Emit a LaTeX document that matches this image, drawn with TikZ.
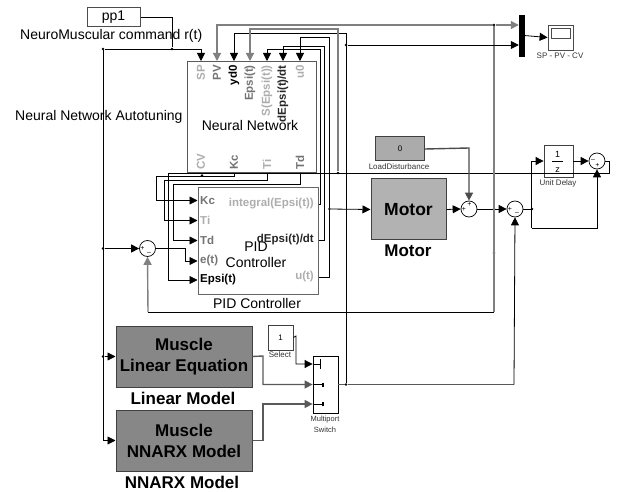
\documentclass[tikz,border=0pt]{standalone}
\usepackage{fontspec}
\setmainfont{Liberation Sans}
\usetikzlibrary{arrows.meta}
\definecolor{lightport}{gray}{0.68}
\definecolor{midport}{gray}{0.45}
\definecolor{wiregrey}{gray}{0.5}
\tikzset{
    >={Triangle[length=8pt,width=8pt]},
    wire/.style={line width=0.8pt},
    greywire/.style={line width=1.4pt, wiregrey},
    block/.style={draw=black!75, line width=1pt, minimum width=#1, inner sep=0pt, align=center},
    caption/.style={font=\fontsize{17}{19}\selectfont\bfseries},
    tinytext/.style={font=\fontsize{8}{10}\selectfont, text=black!80, align=center},
    plaintext/.style={font=\fontsize{14}{16}\selectfont},
    port/.style={font=\fontsize{11.5}{13}\selectfont\bfseries, inner sep=0pt},
    sumnode/.style={draw, circle, line width=0.7pt, minimum size=16pt, inner sep=0pt},
    sign/.style={font=\fontsize{7}{7}\selectfont, inner sep=0pt},
    dotnode/.style={circle, fill, minimum size=2.6pt, inner sep=0pt}
}
\begin{document}
\begin{tikzpicture}[x=1pt, y=-1pt]
    \useasboundingbox (0,0) rectangle (622,492);

    % top left
    \node[block=53pt, minimum height=19pt, draw=black!70, plaintext] (pp1) at (113.5,17.5) {pp1};
    \node[plaintext, anchor=west, inner sep=0pt] (cmdlabel) at (20,36) {NeuroMuscular command r(t)};
    \node[plaintext, anchor=west, inner sep=0pt] (tunelabel) at (15,117) {Neural Network Autotuning};

    % neural network block
    \node[draw, line width=1pt, gray!70!black, minimum width=129pt, minimum height=111pt, inner sep=0pt] (nn) at (251.5,117.5) {};
    \node[plaintext] (nnname) at (250,125) {Neural Network};
    \node[port, rotate=90, anchor=east, text=lightport] (lblsp) at (201,65) {SP};
    \node[port, rotate=90, anchor=east, text=midport] (lblpv) at (217,65) {PV};
    \node[port, rotate=90, anchor=east] (lblyd) at (234,65) {yd0};
    \node[port, rotate=90, anchor=east, text=midport] (lblepsi) at (250,65) {Epsi(t)};
    \node[port, rotate=90, anchor=east, text=lightport] (lblsepsi) at (267,65) {S(Epsi(t))};
    \node[port, rotate=90, anchor=east, text=black!85] (lbldepsi) at (283,65) {dEpsi(t)/dt};
    \node[port, rotate=90, anchor=east, text=lightport] (lbluo) at (300,65) {u0};
    \node[port, rotate=90, anchor=west, text=lightport] (lblcv) at (201,170) {CV};
    \node[port, rotate=90, anchor=west, text=midport] (lblkc) at (234,170) {Kc};
    \node[port, rotate=90, anchor=west, text=lightport] (lblti) at (267,170) {Ti};
    \node[port, rotate=90, anchor=west, text=midport] (lbltd) at (300,170) {Td};
    \coordinate (portsp) at (201,61);
    \coordinate (portpv) at (217,61);
    \coordinate (portyd) at (234,61);
    \coordinate (portepsi) at (250,61);
    \coordinate (portsepsi) at (267,61);
    \coordinate (portdepsi) at (283,61);
    \coordinate (portuo) at (300,61);

    % pid block
    \node[draw, line width=1pt, gray!80!black, minimum width=120pt, minimum height=107pt, inner sep=0pt] (pid) at (258,241.5) {};
    \node[plaintext, align=center] (pidname) at (256,255) {PID\\Controller};
    \node[plaintext] (pidcaption) at (257,303) {PID Controller};
    \node[port, anchor=west, text=midport] (lblkcin) at (200,200.5) {Kc};
    \node[port, anchor=west, text=lightport] (lbltiin) at (200,220.5) {Ti};
    \node[port, anchor=west, text=midport] (lbltdin) at (200,240.5) {Td};
    \node[port, anchor=west, text=midport] (lbletin) at (200,261) {e(t)};
    \node[port, anchor=west] (lblepsiin) at (200,280) {Epsi(t)};
    \node[port, anchor=east, text=lightport] (lblint) at (314,204) {integral(Epsi(t))};
    \node[port, anchor=east, text=black!85] (lbldout) at (314,240) {dEpsi(t)/dt};
    \node[port, anchor=east, text=lightport] (lbluout) at (314,277) {u(t)};

    % plant blocks
    \node[block=75pt, minimum height=61pt, fill=black!30, font=\fontsize{17.5}{19}\selectfont\bfseries] (motor) at (408.5,209.5) {Motor};
    \node[caption] (motorcaption) at (408,251) {Motor};
    \node[block=49pt, minimum height=24pt, fill=black!33, font=\fontsize{8}{10}\selectfont] (load) at (400,149) {0};
    \node[tinytext] (loadcaption) at (399,167) {LoadDisturbance};
    \node[block=136pt, minimum height=61pt, fill=black!47, font=\fontsize{17}{21}\selectfont\bfseries] (linear) at (184,356.5) {Muscle\\Linear Equation};
    \node[caption] (linearcaption) at (183,398) {Linear Model};
    \node[block=136pt, minimum height=61pt, fill=black!47, font=\fontsize{17}{21}\selectfont\bfseries] (nnarx) at (184,440.5) {Muscle\\NNARX Model};
    \node[caption] (nnarxcaption) at (182,482) {NNARX Model};
    \node[block=25pt, minimum height=25pt, font=\fontsize{8}{10}\selectfont] (select) at (280.5,337.5) {1};
    \node[tinytext] (selectcaption) at (280,355) {Select};
    \node[draw, line width=0.8pt, minimum width=25pt, minimum height=57pt, inner sep=0pt] (switch) at (325.5,384.5) {};
    \node[tinytext, font=\fontsize{7.5}{10.5}\selectfont] (switchcaption) at (325,424.5) {Multiport\\Switch};
    \node[draw, fill, minimum width=5pt, minimum height=41pt, inner sep=0pt] (mux) at (521.5,35.5) {};
    \node[draw=black!70, line width=0.8pt, minimum width=25pt, minimum height=25pt, inner sep=0pt] (scope) at (560.5,37.5) {};
    \node[draw=black!70, line width=0.8pt, minimum width=19pt, minimum height=10pt, inner sep=0pt] (screen) at (560.5,33) {};
    \node[tinytext] (scopecaption) at (560,56) {SP - PV - CV};
    \node[draw=black!75, line width=0.8pt, minimum width=29pt, minimum height=32pt, inner sep=0pt] (delay) at (558.5,161) {};
    \node[font=\fontsize{9}{9}\selectfont, inner sep=0pt] (delayone) at (557.5,154) {1};
    \node[font=\fontsize{9}{9}\selectfont, inner sep=0pt] (delayz) at (557.5,170) {z};
    \draw[line width=0.6pt] (552,161.5) -- (563,161.5);
    \node[tinytext] (delaycaption) at (558,183) {Unit Delay};

    % sums
    \node[sumnode] (sumerr) at (147.5,248.5) {};
    \node[sumnode] (sumload) at (469,209) {};
    \node[sumnode] (sumout) at (515,209) {};
    \node[sumnode] (sumdelay) at (597,161) {};
    \node[sign] (s1) at (142.5,248) {+};
    \node[sign] (s2) at (149,253) {--};
    \node[sign] (s3) at (464,209) {+};
    \node[sign] (s4) at (469.5,204) {+};
    \node[sign] (s5) at (510,209) {+};
    \node[sign] (s6) at (517,213) {--};
    \node[sign] (s7) at (593,160) {--};
    \node[sign] (s8) at (597.5,165.5) {+};

    % junctions
    \node[dotnode] (jpp) at (172,49) {};
    \node[dotnode] (jleft) at (103,49) {};
    \node[dotnode] (jerr) at (103,248.5) {};
    \node[dotnode] (jlin) at (103,356.5) {};
    \node[dotnode] (jfb) at (338,173) {};
    \node[dotnode] (jmotor) at (329.5,209) {};
    \node[dotnode] (jmux) at (346,45) {};
    \node[dotnode] (jsw) at (346,384.5) {};
    \node[dotnode] (jpv) at (494,25) {};
    \node[dotnode] (jplant) at (494,209) {};
    \node[dotnode] (jmid) at (494,253) {};
    \node[dotnode] (jdelay) at (532,209) {};
    \node[dotnode] (jcv) at (202,175.5) {};

    % command lines
    \draw[wire] (pp1.east) -| (jpp);
    \draw[wire, ->] (jleft) -| (portsp);
    \draw[wire] (jleft) -- (103,440.5);
    \draw[wire, ->] (jerr) -- (sumerr.west);
    \draw[wire, ->] (jlin) -- (linear.west);
    \draw[wire, ->] (103,440.5) -- (nnarx.west);

    % inputs of the network
    \draw[greywire, ->] (jpv) -- (217,25) -- (portpv);
    \draw[wire, ->] (jsw) -- (346,33) -- (234,33) -- (portyd);
    \draw[greywire, ->] (jfb) -- (338,29) -- (250,29) -- (portepsi);
    \draw[wire, ->] (pid.east |- lblint) -- (320.5,204) -- (320.5,49.5) -- (267,49.5) -- (portsepsi);
    \draw[wire, ->] (pid.east |- lbldout) -- (324.5,240) -- (324.5,46.5) -- (283,46.5) -- (portdepsi);
    \draw[wire, ->] (pid.east |- lbluout) -- (329.5,277) -- (329.5,37) -- (300,37) -- (portuo);

    % gains to the pid block
    \draw[wire, ->] (234,173) -- (234,176.5) -- (156,176.5) -- (156,200.5) -- (pid.west |- lblkcin);
    \draw[wire, ->] (267,173) -- (267,180.5) -- (164.5,180.5) -- (164.5,220.5) -- (pid.west |- lbltiin);
    \draw[wire, ->] (300,173) -- (300,184) -- (173,184) -- (173,240.5) -- (pid.west |- lbltdin);
    \draw[wire, ->] (sumerr.east) -- (185,248.5) -- (185,261) -- (pid.west |- lbletin);
    \draw[wire, ->] (sumdelay.east) -- (609,161) -- (609,173) -- (168.5,173) -- (168.5,280) -- (pid.west |- lblepsiin);

    % plant
    \draw[wire, ->] (jmotor) -- (motor.west);
    \draw[wire, ->] (motor.east) -- (sumload.west);
    \draw[greywire, ->, black!70] (load.east) -- (469,148) -- (sumload.north);
    \draw[wire, ->] (sumload.east) -- (sumout.west);
    \draw[wire] (sumout.east) -- (jdelay);
    \draw[wire, ->] (531.5,228) -- (531.5,161) -- (delay.west);
    \draw[wire, ->] (531.5,228) -- (597,228) -- (sumdelay.south);
    \draw[wire, ->] (delay.east) -- (sumdelay.west);

    % feedback
    \draw[greywire] (jpv) -- (494,312);
    \draw[wire] (494,312) -- (148,312);
    \draw[greywire, ->] (148,312) -- (sumerr.south);
    \draw[greywire, ->] (jpv) -- (mux.west |- jpv);
    \draw[wire, ->] (jmux) -- (mux.west |- jmux);
    \draw[wire, ->] (mux.east) -- (scope.west);

    % switch
    \draw[wire, ->] (select.east) -- (296,336) -- (296,364) -- (switch.west |- 296,364);
    \draw[greywire, black!65, ->] (linear.east) -- (263,356) -- (263,384.5) -- (switch.west);
    \draw[greywire, black!65, ->] (nnarx.east) -- (263,440.5) -- (263,404) -- (switch.west |- 263,404);
    \draw[wire] (switch.west |- 296,364) -- (320,364);
    \draw[wire] (320,359) -- (320,369);
    \draw[wire] (switch.west) -- (323,384.5);
    \draw[wire] (switch.west |- 263,404) -- (323,404);
    \draw[line width=2pt] (323,382.5) -- (323,386.5);
    \draw[line width=2pt] (323,402) -- (323,406);
    \draw[greywire, black!65] (switch.east) -- (jsw) -- (514,384.5);
    \draw[wire, ->] (514,384.5) -- (sumout.south);
\end{tikzpicture}
\end{document}
